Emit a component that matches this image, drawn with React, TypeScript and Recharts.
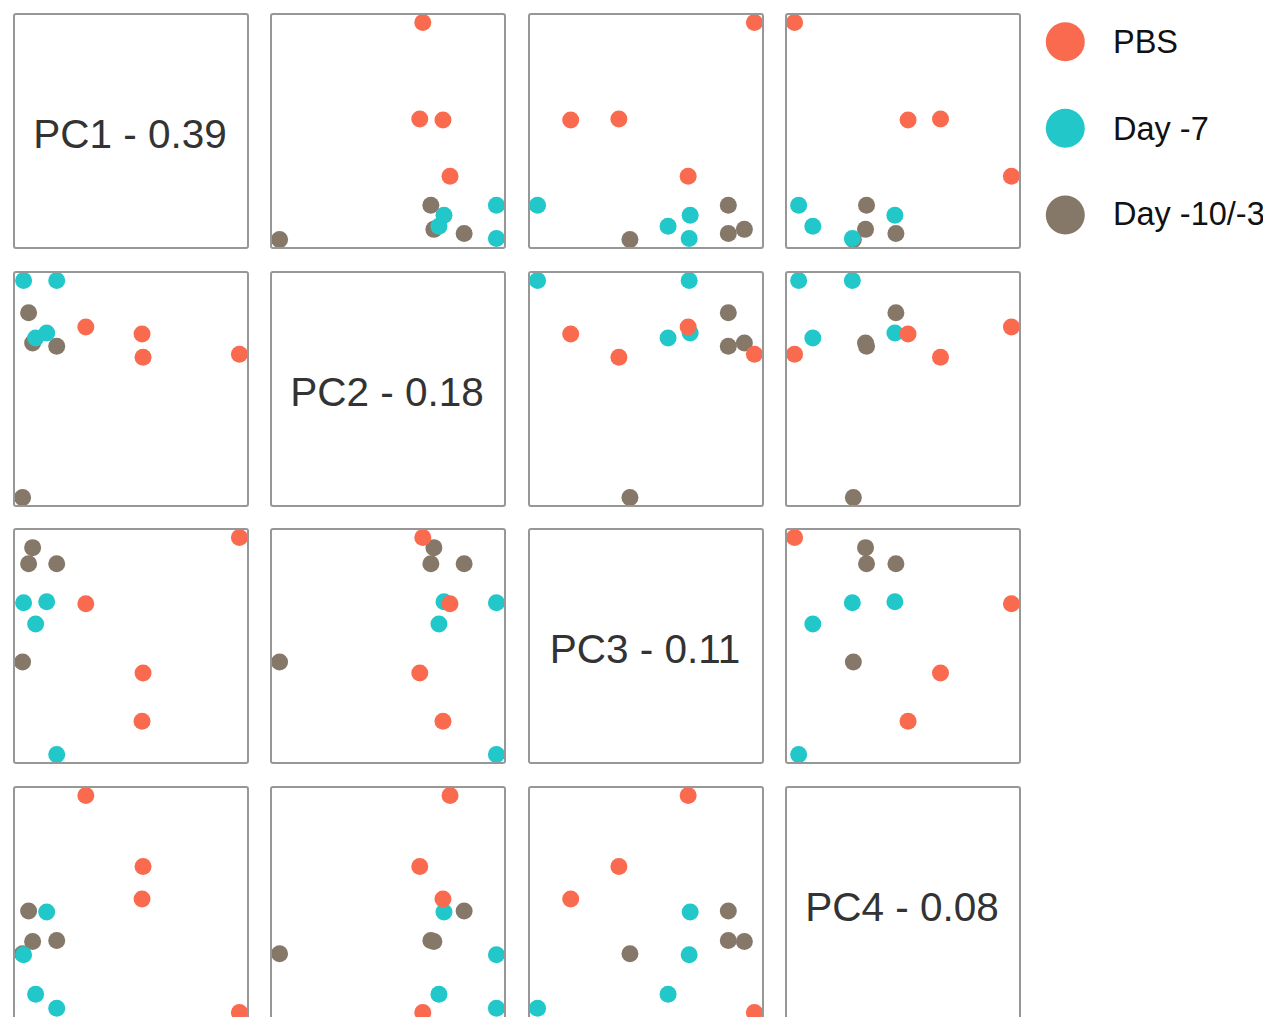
import React from "react";
import { ScatterChart, Scatter, XAxis, YAxis } from "recharts";

// ---- data (PC scores, arbitrary units) ----
const groupNames = ["PBS", "Day -7", "Day -10/-3"];
const groupColors = ["#FA6A4E", "#22C8C9", "#867868"];
const pcLabels = ["PC1 - 0.39", "PC2 - 0.18", "PC3 - 0.11", "PC4 - 0.08"];

// PBS samples
const pbsPC1 = [65, 121, 122, 218];
const pbsPC2 = [169, 162, 139, 142];
const pbsPC3 = [150, 33, 81, 216];
const pbsPC4 = [215, 113, 145, 1];

// Day -7 samples
const d7PC1 = [3, 36, 26, 15];
const d7PC2 = [215, 215, 163, 158];
const d7PC3 = [151, 0, 152, 130];
const d7PC4 = [58, 5, 100, 19];

// Day -10/-3 samples
const d103PC1 = [8, 12, 36, 2];
const d103PC2 = [183, 153, 150, 0];
const d103PC3 = [190, 206, 190, 92];
const d103PC4 = [101, 71, 72, 59];

type Row = { pc1: number; pc2: number; pc3: number; pc4: number };
const build = (a: number[], b: number[], c: number[], d: number[]): Row[] =>
  a.map((v, i) => ({ pc1: v, pc2: b[i], pc3: c[i], pc4: d[i] }));

const groupData: Row[][] = [
  build(pbsPC1, pbsPC2, pbsPC3, pbsPC4),
  build(d7PC1, d7PC2, d7PC3, d7PC4),
  build(d103PC1, d103PC2, d103PC3, d103PC4),
];
const keys = ["pc1", "pc2", "pc3", "pc4"] as const;

const domains = keys.map((k) => {
  const all = groupData.flat().map((r) => r[k]);
  const mn = Math.min(...all);
  const mx = Math.max(...all);
  const pad = (mx - mn) * 0.035;
  return [mn - pad, mx + pad] as [number, number];
});

// draw order: Day -10/-3, Day -7, PBS (PBS on top)
const drawOrder = [2, 1, 0];

const PANEL = 236; // outer size including border
const STEP = 257.6;
const X0 = 4.5;
const Y0 = 5;
const FONT = "'Liberation Sans', Arial, Helvetica, sans-serif";

function Panel({ r, c }: { r: number; c: number }) {
  const style: React.CSSProperties = {
    position: "absolute",
    left: X0 + STEP * c,
    top: Y0 + STEP * r,
    width: PANEL,
    height: PANEL,
    boxSizing: "border-box",
    border: "2px solid #979797",
    borderRadius: 3,
    background: "#fff",
  };
  const inner = PANEL - 4;
  if (r === c) {
    return (
      <div style={style}>
        <svg width={inner} height={inner}>
          <text
            x={inner / 2 - 1}
            y={133}
            textAnchor="middle"
            fontFamily={FONT}
            fontSize={40.5}
            fill="#333333"
          >
            {pcLabels[r]}
          </text>
        </svg>
      </div>
    );
  }
  const xk = keys[c];
  const yk = keys[r];
  return (
    <div style={style}>
      <ScatterChart
        width={inner}
        height={inner}
        margin={{ top: 0, right: 0, bottom: 0, left: 0 }}
      >
        <XAxis
          type="number"
          dataKey={xk}
          domain={domains[c]}
          allowDataOverflow
          hide
        />
        <YAxis
          type="number"
          dataKey={yk}
          domain={domains[r]}
          allowDataOverflow
          hide
        />
        {drawOrder.map((g) => (
          <Scatter
            key={g}
            name={groupNames[g]}
            data={groupData[g]}
            isAnimationActive={false}
            shape={(p: any) => (
              <circle cx={p.cx} cy={p.cy} r={8.5} fill={groupColors[g]} />
            )}
          />
        ))}
      </ScatterChart>
    </div>
  );
}

function LegendBox() {
  const cys = [33.7, 120.3, 207];
  const bases = [45.3, 132, 217];
  return (
    <svg
      style={{ position: "absolute", left: 1020, top: 0 }}
      width={243}
      height={240}
    >
      {groupNames.map((n, i) => (
        <g key={n}>
          <circle cx={37.3} cy={cys[i]} r={19.5} fill={groupColors[i]} />
          <text
            x={85}
            y={bases[i]}
            fontFamily={FONT}
            fontSize={32.5}
            fill="#111111"
          >
            {n}
          </text>
        </g>
      ))}
    </svg>
  );
}

export default function App() {
  const panels = [];
  for (let r = 0; r < 4; r++)
    for (let c = 0; c < 4; c++) panels.push(<Panel key={`${r}-${c}`} r={r} c={c} />);
  return (
    <div
      style={{
        position: "relative",
        width: 1263,
        height: 1009,
        overflow: "hidden",
        background: "#fff",
      }}
    >
      {panels}
      <LegendBox />
    </div>
  );
}
